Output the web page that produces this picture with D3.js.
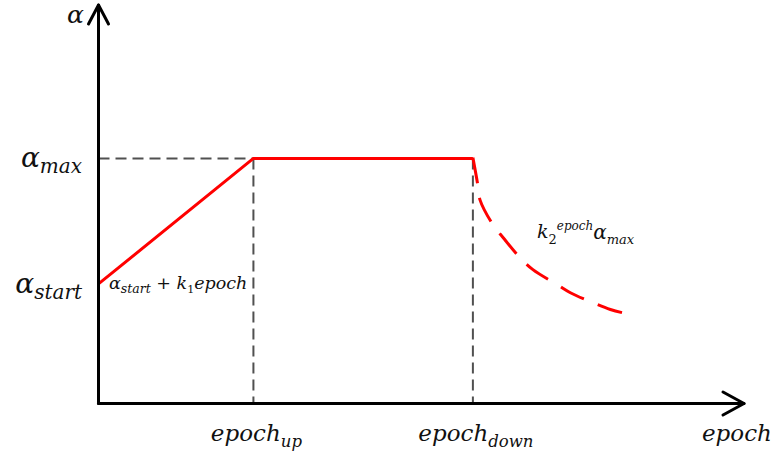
<!DOCTYPE html>
<html>
<head>
<meta charset="utf-8">
<script src="https://cdn.jsdelivr.net/npm/d3@7"></script>
<style>
  html, body { margin: 0; padding: 0; background: #fff; }
  svg text { font-family: "DejaVu Serif", serif; font-style: italic; fill: #111; }
</style>
</head>
<body>
<svg id="chart" width="779" height="459"></svg>
<script>
// schedule values (arbitrary units)
const xDomain = [0, 100];
const yDomain = [0, 100];

const epochUp = 24;
const epochDown = 58;
const alphaStart = 30;
const alphaMax = 61.5;

const warmupEpochs = [0, 24];
const warmupAlpha = [30, 61.5];
const plateauEpochs = [24, 58];
const plateauAlpha = [61.5, 61.5];
const decayEpochs = [58.0, 58.7, 59.1, 61.1, 62.7, 65.3, 67.3, 71.1, 73.1, 76.6, 79.3, 81.1];
const decayAlpha = [61.7, 55.4, 51.1, 44.9, 41.6, 36.6, 33.6, 29.8, 27.8, 25.3, 23.6, 22.8];

const xTickValues = [epochUp, epochDown];
const xTickMain = ["epoch", "epoch"];
const xTickSub = ["up", "down"];
const yTickValues = [alphaMax, alphaStart];
const yTickMain = ["α", "α"];
const yTickSub = ["max", "start"];

var svg = d3.select("#chart");
var x = d3.scaleLinear().domain(xDomain).range([98.5, 744]);
var y = d3.scaleLinear().domain(yDomain).range([403.5, 5]);

function zip(xs, ys) {
  return xs.map(function(v, i) { return [v, ys[i]]; });
}

var line = d3.line()
  .x(function(d) { return x(d[0]); })
  .y(function(d) { return y(d[1]); });

//Gray guide lines
var guides = svg.append("g")
  .attr("stroke", "#505050")
  .attr("stroke-width", 2)
  .attr("stroke-dasharray", "11 6")
  .attr("fill", "none");

guides.append("path").attr("d", line([[0, alphaMax], [epochUp, alphaMax]]));
xTickValues.forEach(function(v) {
  guides.append("path").attr("d", line([[v, alphaMax], [v, 0]]));
});

//Red schedule
svg.append("path")
  .attr("d", line(zip(warmupEpochs, warmupAlpha).concat(zip(plateauEpochs, plateauAlpha).slice(1))))
  .attr("stroke", "#ff0000").attr("stroke-width", 3).attr("fill", "none")
  .attr("stroke-linejoin", "round");

svg.append("path")
  .attr("d", line.curve(d3.curveCatmullRom)(zip(decayEpochs, decayAlpha)))
  .attr("stroke", "#ff0000").attr("stroke-width", 3).attr("fill", "none")
  .attr("stroke-dasharray", "26 15");
line.curve(d3.curveLinear);

//Axes with open arrow heads
var axes = svg.append("g")
  .attr("stroke", "#000").attr("stroke-width", 3).attr("fill", "none")
  .attr("stroke-linecap", "round").attr("stroke-linejoin", "round");
axes.append("path").attr("d", line([[0, 0], [0, yDomain[1]]]));
axes.append("path").attr("d", line([[0, 0], [xDomain[1], 0]]));
axes.append("path").attr("d", "M" + (x(0) - 10) + "," + (y(yDomain[1]) + 19) +
  "L" + x(0) + "," + y(yDomain[1]) + "L" + (x(0) + 10) + "," + (y(yDomain[1]) + 19));
axes.append("path").attr("d", "M" + (x(xDomain[1]) - 21) + "," + (y(0) - 11.5) +
  "L" + x(xDomain[1]) + "," + y(0) + "L" + (x(xDomain[1]) - 21) + "," + (y(0) + 11.5));

//Tick labels
xTickValues.forEach(function(v, i) {
  var t = svg.append("text").attr("x", x(v) + 3).attr("y", 441).attr("text-anchor", "middle");
  t.append("tspan").attr("font-size", 23).text(xTickMain[i]);
  t.append("tspan").attr("font-size", 16.5).attr("dy", 6).text(xTickSub[i]);
});
yTickValues.forEach(function(v, i) {
  var t = svg.append("text").attr("x", 82).attr("y", y(v) + 9).attr("text-anchor", "end");
  t.append("tspan").attr("font-size", 28).text(yTickMain[i]);
  t.append("tspan").attr("font-size", 20).attr("dy", 6).text(yTickSub[i]);
});

//Axis titles
svg.append("text").attr("x", 67).attr("y", 23).attr("font-size", 25).text("α");
svg.append("text").attr("x", 702).attr("y", 441).attr("font-size", 23).text("epoch");

//Formula labels
var f1 = svg.append("text").attr("x", 109).attr("y", 289);
f1.append("tspan").attr("font-size", 17.5).text("α");
f1.append("tspan").attr("font-size", 12.5).attr("dy", 4).text("start");
f1.append("tspan").attr("font-size", 17.5).attr("dy", -4).attr("font-style", "normal").text(" + ");
f1.append("tspan").attr("font-size", 17.5).text("k");
f1.append("tspan").attr("font-size", 11).attr("dy", 4).attr("font-style", "normal").text("1");
f1.append("tspan").attr("font-size", 17.5).attr("dy", -4).text("epoch");

var f2 = svg.append("text").attr("x", 537).attr("y", 238);
f2.append("tspan").attr("font-size", 19).text("k");
f2.append("tspan").attr("font-size", 13).attr("y", 244).attr("font-style", "normal").text("2");
f2.append("tspan").attr("font-size", 12).attr("y", 230).text("epoch");
f2.append("tspan").attr("font-size", 20).attr("y", 239).text("α");
f2.append("tspan").attr("font-size", 13).attr("y", 244).text("max");
</script>
</body>
</html>
